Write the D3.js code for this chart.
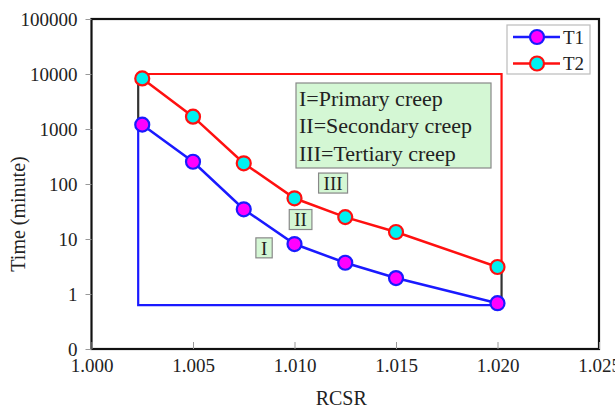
<!DOCTYPE html>
<html>
<head>
<meta charset="utf-8">
<script src="https://cdn.jsdelivr.net/npm/d3@7"></script>
<style>
  html, body { margin: 0; padding: 0; background: #fff; }
  svg { display: block; font-family: "Liberation Serif", "Times New Roman", serif; }
</style>
</head>
<body>
<svg id="chart" width="615" height="409"></svg>
<script>
// Creep time vs. RCSR for two temperatures
const rcsr = [1.0025, 1.005, 1.0075, 1.010, 1.0125, 1.015, 1.020];
const timeT1 = [1200, 254, 34.7, 8.1, 3.7, 1.95, 0.68];
const timeT2 = [8300, 1675, 238, 55, 25, 13.4, 3.1];

// Stage outline guides
const outlineT2 = [[1.0023, 10000], [1.0202, 10000], [1.0202, 3.1]];
const outlineT1 = [[1.0023, 1200], [1.0023, 0.63], [1.0202, 0.63]];
const outlineLeft = [[1.0023, 8300], [1.0023, 1200]];
const outlineRight = [[1.0202, 3.1], [1.0202, 0.68]];

const xTicks = [1.000, 1.005, 1.010, 1.015, 1.020, 1.025];
const yTicks = [0.1, 1, 10, 100, 1000, 10000, 100000];
const yTickLabels = ["0", "1", "10", "100", "1000", "10000", "100000"];

const legendItems = ["T1", "T2"];
const stageNotes = ["I=Primary creep", "II=Secondary creep", "III=Tertiary creep"];
const stageTags = [
  { label: "I", x: 1.0085, y: 6.9 },
  { label: "II", x: 1.0103, y: 22.6 },
  { label: "III", x: 1.0119, y: 104 }
];

const svg = d3.select("#chart");
const m = { left: 91.5, right: 599, top: 19, bottom: 349 };

const x = d3.scaleLinear().domain([1.000, 1.025]).range([m.left, m.right]);
const y = d3.scaleLog().domain([0.1, 100000]).range([m.bottom, m.top]);

// Plot frame
svg.append("rect")
  .attr("x", m.left).attr("y", m.top)
  .attr("width", m.right - m.left).attr("height", m.bottom - m.top)
  .attr("fill", "none").attr("stroke", "#111").attr("stroke-width", 2.2);

// Y axis (ticks outside)
const yAxis = d3.axisLeft(y).tickValues(yTicks)
  .tickFormat((d, i) => yTickLabels[i]).tickSize(6).tickPadding(8);
const gy = svg.append("g").attr("transform", `translate(${m.left},0)`).call(yAxis);
gy.select(".domain").remove();
gy.selectAll(".tick line").attr("stroke", "#999");
gy.selectAll(".tick text").attr("font-size", 19).attr("fill", "#222")
  .attr("font-family", "Liberation Serif, serif");

// X axis (ticks inside)
const xAxis = d3.axisBottom(x).tickValues(xTicks)
  .tickFormat(d3.format(".3f")).tickSizeInner(-7).tickSizeOuter(0).tickPadding(6);
const gx = svg.append("g").attr("transform", `translate(0,${m.bottom})`).call(xAxis);
gx.select(".domain").remove();
gx.selectAll(".tick line").attr("stroke", "#999");
gx.selectAll(".tick text").attr("font-size", 19).attr("fill", "#222")
  .attr("font-family", "Liberation Serif, serif").attr("dy", "0.9em");

// Axis titles
svg.append("text").attr("x", (m.left + m.right) / 2 - 4).attr("y", 405)
  .attr("text-anchor", "middle").attr("font-size", 20).attr("fill", "#222").text("RCSR");
svg.append("text")
  .attr("transform", `translate(25,${(m.top + m.bottom) / 2 + 30}) rotate(-90)`)
  .attr("text-anchor", "middle").attr("font-size", 20).attr("fill", "#222").text("Time (minute)");

const line = d3.line().x(d => x(d[0])).y(d => y(d[1]));

// Outline guides
svg.append("path").datum(outlineT2).attr("d", line)
  .attr("fill", "none").attr("stroke", "#ff1010").attr("stroke-width", 2.2);
svg.append("path").datum(outlineT1).attr("d", line)
  .attr("fill", "none").attr("stroke", "#1a1aff").attr("stroke-width", 2.2);
[outlineLeft, outlineRight].forEach(seg => {
  svg.append("path").datum(seg).attr("d", line)
    .attr("fill", "none").attr("stroke", "#333").attr("stroke-width", 2.2);
});

// Stage note box
const noteG = svg.append("g");
noteG.append("rect").attr("x", 296).attr("y", 83).attr("width", 195).attr("height", 85)
  .attr("fill", "#d4f7d4").attr("stroke", "#888").attr("stroke-width", 1.2);
noteG.selectAll("text").data(stageNotes).join("text")
  .attr("x", 299).attr("y", (d, i) => 105.5 + i * 27.5)
  .attr("font-size", 22).attr("fill", "#222").text(d => d);

// Stage tags
const tagG = svg.append("g").selectAll("g").data(stageTags).join("g")
  .attr("transform", d => `translate(${x(d.x)},${y(d.y)})`);
tagG.each(function (d) {
  const g = d3.select(this);
  const t = g.append("text").attr("text-anchor", "middle").attr("dy", "0.35em")
    .attr("font-size", 19).attr("fill", "#222").text(d.label);
  const w = t.node().getComputedTextLength() + 10;
  g.insert("rect", "text").attr("x", -w / 2).attr("y", -10).attr("width", w).attr("height", 20)
    .attr("fill", "#d4f7d4").attr("stroke", "#888").attr("stroke-width", 1.2);
});

// Series
const series = [
  { name: "T1", values: timeT1, stroke: "#1a1aff", fill: "#ff00ff" },
  { name: "T2", values: timeT2, stroke: "#ff1010", fill: "#00f0f0" }
];
series.forEach(s => {
  const pts = rcsr.map((r, i) => [r, s.values[i]]);
  svg.append("path").datum(pts).attr("d", line)
    .attr("fill", "none").attr("stroke", s.stroke).attr("stroke-width", 2.5);
  svg.append("g").selectAll("circle").data(pts).join("circle")
    .attr("cx", d => x(d[0])).attr("cy", d => y(d[1])).attr("r", 7)
    .attr("fill", s.fill).attr("stroke", s.stroke).attr("stroke-width", 2.2);
});

// Legend
const lg = svg.append("g");
lg.append("rect").attr("x", 507).attr("y", 25).attr("width", 83).attr("height", 49)
  .attr("fill", "#fff").attr("stroke", "#bbb").attr("stroke-width", 1.2);
series.forEach((s, i) => {
  const ly = 37 + i * 26.5;
  lg.append("line").attr("x1", 513).attr("x2", 560).attr("y1", ly).attr("y2", ly)
    .attr("stroke", s.stroke).attr("stroke-width", 2.5);
  lg.append("circle").attr("cx", 537).attr("cy", ly).attr("r", 7)
    .attr("fill", s.fill).attr("stroke", s.stroke).attr("stroke-width", 2.2);
  lg.append("text").attr("x", 563).attr("y", ly).attr("dy", "0.35em")
    .attr("font-size", 19).attr("fill", "#222").text(legendItems[i]);
});
</script>
</body>
</html>
